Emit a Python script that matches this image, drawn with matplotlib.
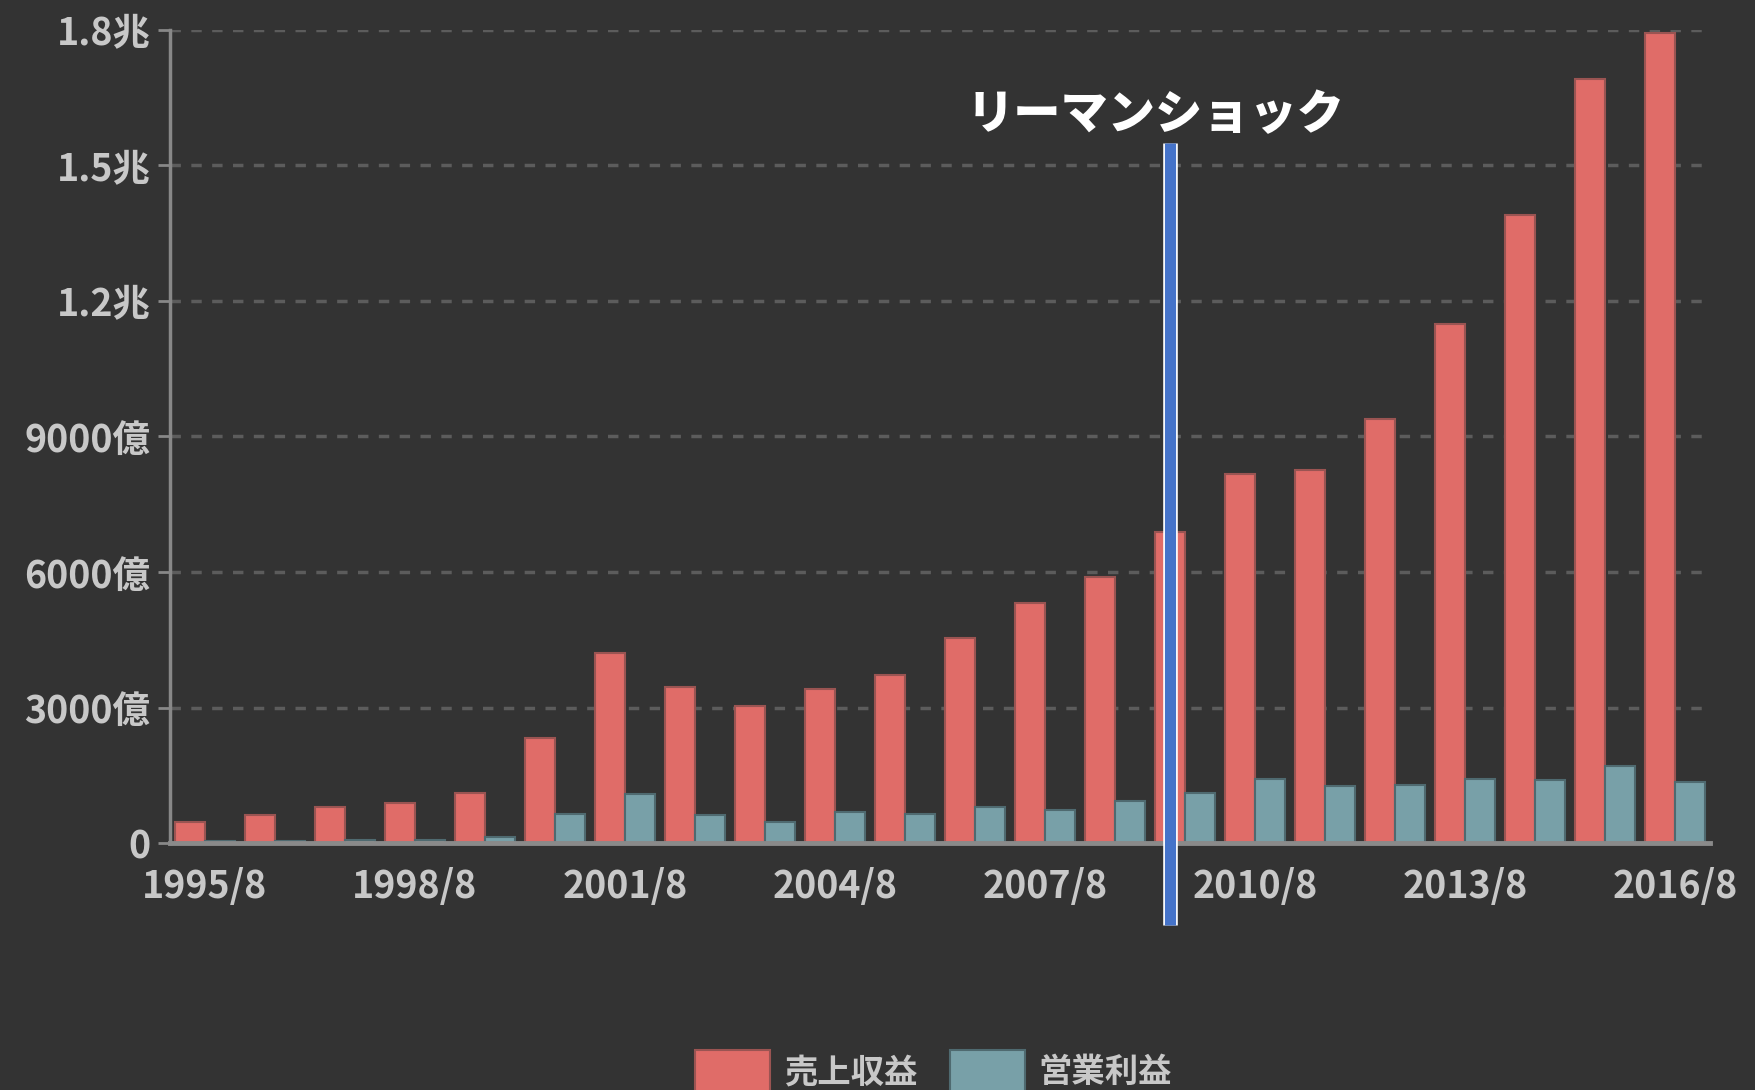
import matplotlib
matplotlib.use("Agg")
import matplotlib.pyplot as plt
import matplotlib.patheffects as pe
import numpy as np

plt.rcParams['font.family'] = ['Noto Sans CJK JP', 'DejaVu Sans']

# fiscal years (August year-end)
years = [f"{y}/8" for y in range(1995, 2017)]
# values in 億円
revenue = [470, 620, 790, 880, 1110, 2330, 4210, 3450, 3030, 3420, 3720,
           4540, 5310, 5900, 6890, 8160, 8260, 9380, 11480, 13910, 16920, 17940]
profit = [40, 50, 60, 70, 140, 640, 1090, 620, 470, 690, 640,
          790, 740, 940, 1110, 1410, 1270, 1290, 1410, 1390, 1710, 1340]
series_names = ["売上収益", "営業利益"]
yticks = [0, 3000, 6000, 9000, 12000, 15000, 18000]
ytick_labels = ["0", "3000億", "6000億", "9000億", "1.2兆", "1.5兆", "1.8兆"]
event_label = "リーマンショック"
event_year = "2009/8"

bg = "#333333"
red = "#e06c68"
teal = "#78a0a8"
tick_col = "#c8c8c8"

fig = plt.figure(figsize=(17.56, 10.9), dpi=100, facecolor=bg)
ax = fig.add_axes([0.0968, 0.2266, 0.877, 0.7459])
ax.set_facecolor(bg)

x = np.arange(len(years))
w = 0.43
ax.bar(x - w / 2, revenue, w, color=red, edgecolor="#9a5452", linewidth=1.5,
       label=series_names[0], zorder=3)
ax.bar(x + w / 2, profit, w, color=teal, edgecolor="#4f6a70", linewidth=1.5,
       label=series_names[1], zorder=3)

ax.set_xlim(-0.5, len(years) - 0.5)
ax.set_ylim(0, 18000)

ax.set_yticks(yticks)
ax.set_yticklabels(ytick_labels)
ax.set_xticks(x[::3])
ax.set_xticklabels(years[::3])
ax.tick_params(axis='y', colors="#888888", length=9, width=2, labelcolor=tick_col,
               labelsize=27, pad=5)
ax.tick_params(axis='x', length=0, labelcolor=tick_col, labelsize=27, pad=17)
for lab in ax.get_xticklabels() + ax.get_yticklabels():
    lab.set_fontweight('bold')

ax.grid(axis='y', color="#5c5c5c", linewidth=2.5, linestyle=(0, (3, 3)), zorder=1)
for s in ["top", "right"]:
    ax.spines[s].set_visible(False)
ax.spines["left"].set_color("#888888")
ax.spines["left"].set_linewidth(2.5)
ax.spines["bottom"].set_color("#8a8a8a")
ax.spines["bottom"].set_linewidth(3.5)
ax.spines["bottom"].set_zorder(4)

# Lehman shock marker
ex = years.index(event_year) - w / 2
ax.axvline(ex, ymin=-0.101, ymax=0.861, color="#4573c9", linewidth=8,
           clip_on=False, zorder=5, solid_capstyle="butt",
           path_effects=[pe.Stroke(linewidth=10.5, foreground="white",
                                   capstyle="butt"), pe.Normal()])
ax.text(ex - 0.2, 0.895, event_label, transform=ax.get_xaxis_transform(),
        ha="center", va="center", color="white", fontsize=34, fontweight="heavy")

leg = ax.legend(loc="upper center", bbox_to_anchor=(0.496, -0.238), ncol=2,
                frameon=False, fontsize=24, handlelength=2.25, handleheight=1.6,
                columnspacing=1.0, handletextpad=0.4, borderaxespad=0.0)
for t in leg.get_texts():
    t.set_color(tick_col)
    t.set_fontweight('bold')

fig.savefig("out.png", dpi=100, facecolor=bg)
